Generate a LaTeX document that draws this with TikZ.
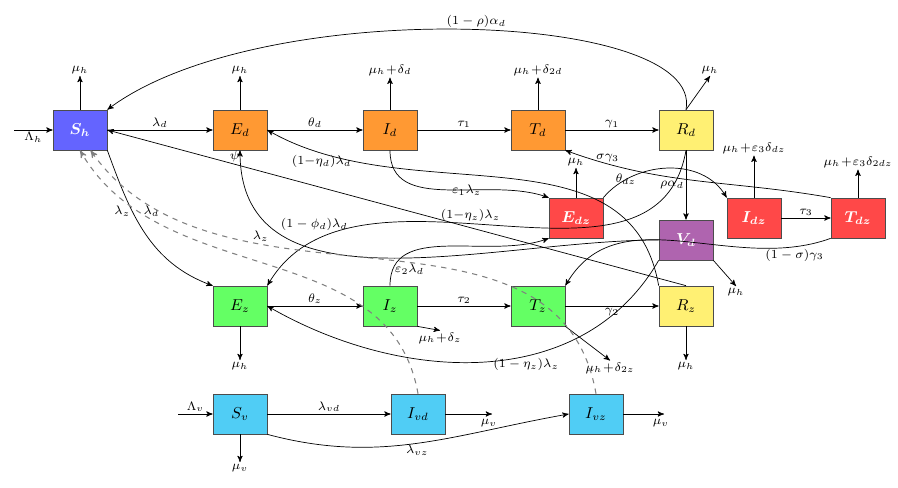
\documentclass[tikz,border=0pt]{standalone}
\usepackage{amssymb, amsfonts, amsmath}
\usetikzlibrary{positioning, arrows}
\definecolor{cs}{RGB}{100,100,255}
\definecolor{co}{RGB}{255,153,51}
\definecolor{cr}{RGB}{255,72,72}
\definecolor{cp}{RGB}{175,100,175}
\definecolor{cg}{RGB}{100,255,100}
\definecolor{cy}{RGB}{255,240,115}
\definecolor{cc}{RGB}{80,205,245}
\tikzset {
    ->,
    >=stealth',
    line width=0.95pt,
    comp/.style={draw=black!70, minimum width=1.08cm, minimum height=0.8cm, font=\small},
    lab/.style={font=\scriptsize, inner sep=1pt},
    vec/.style={dashed, gray, line width=0.6pt}
}
\begin{document}
\begin{tikzpicture}[x=0.02cm, y=-0.02cm]
\useasboundingbox (0,0) rectangle (898,487);
% compartments
\node[comp, fill=cs, text=white] (Sh) at (80,130) {$\boldsymbol{S_h}$};
\node[comp, fill=co] (Ed) at (240,130) {$E_d$};
\node[comp, fill=co] (Id) at (390,130) {$I_d$};
\node[comp, fill=co] (Td) at (538,130) {$T_d$};
\node[comp, fill=cy] (Rd) at (686,130) {$R_d$};
\node[comp, fill=cr, text=white] (Edz) at (576,218) {$\boldsymbol{E_{dz}}$};
\node[comp, fill=cp, text=white] (Vd) at (686,240) {$\boldsymbol{V_d}$};
\node[comp, fill=cr, text=white] (Idz) at (754,218) {$\boldsymbol{I_{dz}}$};
\node[comp, fill=cr, text=white] (Tdz) at (858,218) {$\boldsymbol{T_{dz}}$};
\node[comp, fill=cg] (Ez) at (240,306) {$E_z$};
\node[comp, fill=cg] (Iz) at (390,306) {$I_z$};
\node[comp, fill=cg] (Tz) at (538,306) {$T_z$};
\node[comp, fill=cy] (Rz) at (686,306) {$R_z$};
\node[comp, fill=cc] (Sv) at (240,414) {$S_v$};
\node[comp, fill=cc] (Ivd) at (418,414) {$I_{vd}$};
\node[comp, fill=cc] (Ivz) at (596,414) {$I_{vz}$};

% outer ends
\coordinate (inh) at (14,130);
\coordinate (inv) at (178,414);
\coordinate (oIvd) at (492,414);
\coordinate (oIvz) at (664,414);
\node[lab] (mSh) at (80,70) {$\mu_h$};
\node[lab] (mEd) at (240,70) {$\mu_h$};
\node[lab] (mId) at (390,70) {$\mu_h\!+\!\delta_d$};
\node[lab] (mTd) at (538,70) {$\mu_h\!+\!\delta_{2d}$};
\node[lab] (mRd) at (710,70) {$\mu_h$};
\node[lab] (mEdz) at (576,162) {$\mu_h$};
\node[lab] (mIdz) at (754,148) {$\mu_h\!+\!\varepsilon_3\delta_{dz}$};
\node[lab] (mTdz) at (858,162) {$\mu_h\!+\!\varepsilon_3\delta_{2dz}$};
\node[lab] (mVd) at (736,292) {$\mu_h$};
\node[lab] (mEz) at (240,366) {$\mu_h$};
\node[lab] (mIz) at (440,338) {$\mu_h\!+\!\delta_z$};
\node[lab] (mTz) at (610,368) {$\mu_h\!+\!\delta_{2z}$};
\node[lab] (mRz) at (686,366) {$\mu_h$};
\node[lab] (mSv) at (240,468) {$\mu_v$};

\draw (inh) -- node[lab, below] {$\Lambda_h$} (Sh);
\draw (inv) -- node[lab, above] {$\Lambda_v$} (Sv);
\draw (Sh) -- (mSh.south);
\draw (Ed) -- (mEd.south);
\draw (Id) -- (mId.south);
\draw (Td) -- (mTd.south);
\draw (Rd.north) -- (mRd.south);
\draw (Edz) -- (mEdz.south);
\draw (Idz) -- (mIdz.south);
\draw (Tdz) -- (mTdz.south);
\draw (Vd.south east) -- (mVd.north);
\draw (Ez) -- (mEz.north);
\draw (Iz.south east) -- (mIz.north);
\draw (Tz.south east) -- (mTz.north);
\draw (Rz) -- (mRz.north);
\draw (Sv) -- (mSv.north);
\draw (Ivd) -- (oIvd) node[lab, below left=2pt and -4pt] {$\mu_v$};
\draw (Ivz) -- (oIvz) node[lab, below left=2pt and -4pt] {$\mu_v$};

% main chains
\draw (Sh) -- node[lab, above] {$\lambda_d$} (Ed);
\draw (Ed) -- node[lab, above] {$\theta_d$} (Id);
\draw (Id) -- node[lab, above] {$\tau_1$} (Td);
\draw (Td) -- node[lab, above] {$\gamma_1$} (Rd);
\draw (Ez) -- node[lab, above] {$\theta_z$} (Iz);
\draw (Iz) -- node[lab, above] {$\tau_2$} (Tz);
\draw (Tz) -- node[lab, below] {$\gamma_2$} (Rz);
\draw (Idz) -- node[lab, above] {$\tau_3$} (Tdz);
\draw (Rd) -- node[lab, left] {$\rho\alpha_d$} (Vd);
\draw (Sv) -- node[lab, above] {$\lambda_{vd}$} (Ivd);
\draw (Sv.south east) to[out=-15, in=190] node[lab, below] {$\lambda_{vz}$} (Ivz.west);

% cross flows
\draw (Rd.north) .. controls (705,10) and (260,-5) .. node[lab, above, pos=0.48] {$(1-\rho)\alpha_d$} (Sh.north east);
\draw (Sh.south east) to[out=-70, in=160] node[lab, left, pos=0.35] {$\lambda_z$} (Ez.north west);
\draw (Rz.north) -- node[lab, above, pos=0.78] {$\psi$} (Sh.east);
\draw (Rz.north west) to[out=100, in=-30] node[lab, below, pos=0.88] {$(1{-}\eta_d)\lambda_d$} (Ed.east);
\draw (Vd.west) to[out=180, in=-90] node[lab, above right, pos=0.76] {$(1-\phi_d)\lambda_d$} (Ed.south);
\draw (Rd.south) to[out=-100, in=60] node[lab, above, pos=0.55] {$(1{-}\eta_z)\lambda_z$} (Ez.north east);
\draw (Vd.south west) to[out=-120, in=-30] node[lab, below, pos=0.4] {$(1-\eta_z)\lambda_z$} (Ez.east);
\draw (Id.south) to[out=-90, in=160] node[lab, pos=0.6] {$\varepsilon_1\lambda_z$} (Edz.north west);
\draw (Iz.north) to[out=90, in=200] node[lab, right, pos=0.1] {$\varepsilon_2\lambda_d$} (Edz.south west);
\draw (Edz.north east) to[out=50, in=120] node[lab, pos=0.2] {$\theta_{dz}$} (Idz.north west);
\draw (Tdz.north west) to[out=170, in=-20] node[lab, above, pos=0.85] {$\sigma\gamma_3$} (Td.south east);
\draw (Tdz.south west) to[out=200, in=60] node[lab, below, pos=0.12] {$(1-\sigma)\gamma_3$} (Tz.north east);

% vector transmission
\draw[vec] (Ivd.north) to[out=100, in=-60] node[lab, black, pos=0.78, above] {$\lambda_d$} (Sh.south);
\draw[vec] (Ivz.north) to[out=100, in=-55] node[lab, black, pos=0.68, above] {$\lambda_z$} ([xshift=6pt]Sh.south);
\end{tikzpicture}
\end{document}
